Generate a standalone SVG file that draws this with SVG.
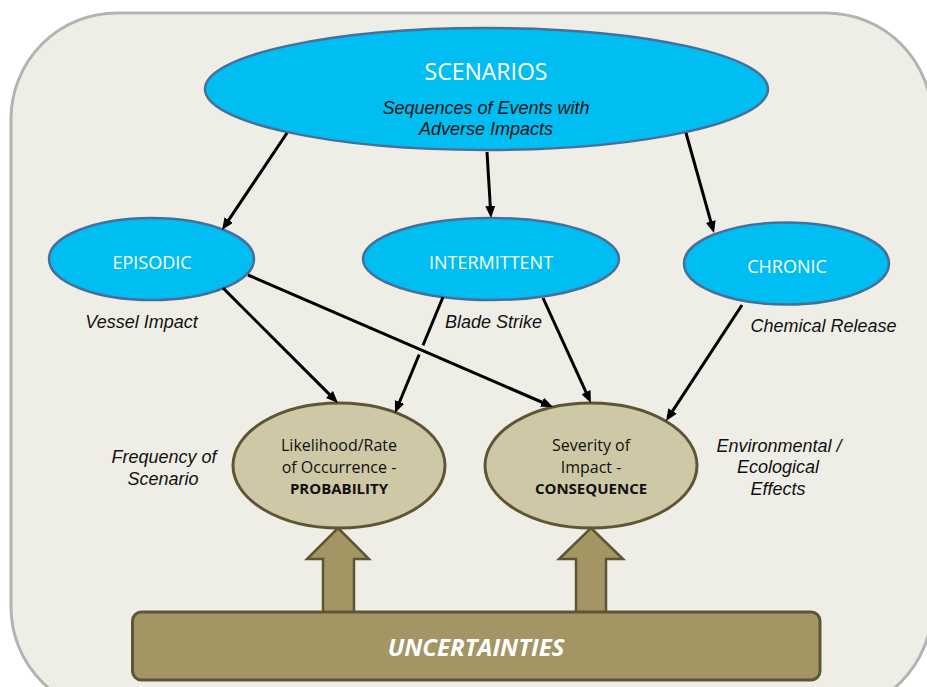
<svg xmlns="http://www.w3.org/2000/svg" width="927" height="687" viewBox="0 0 927 687">
<defs>
<marker id="ah" viewBox="0 0 12 10" refX="2" refY="5" markerWidth="12" markerHeight="10" markerUnits="userSpaceOnUse" orient="auto">
<path d="M0,0 L12,5 L0,10 z" fill="#000"/>
</marker>
<style>
.blue{fill:#00BEF2;stroke:#45709C;stroke-width:2.5}
.tan{fill:#CEC8A6;stroke:#5E5536;stroke-width:3}
.blk{fill:#A39664;stroke:#5E5536;stroke-width:2.5}
.wt{font-family:"Open Sans","Noto Sans",sans-serif;fill:#fff;text-anchor:middle;font-size:18px}
.tt{font-family:"Open Sans","Noto Sans",sans-serif;fill:#111;text-anchor:middle;font-size:16px}
.tb{font-weight:bold;font-size:15px}
.it{font-family:"Liberation Sans",Arial,sans-serif;font-style:italic;fill:#111;text-anchor:middle;font-size:18px}
.con line{stroke:#000;stroke-width:3;marker-end:url(#ah)}
</style>
</defs>
<rect x="11" y="13" width="921" height="700" rx="106" ry="106" fill="#EFEEE6" stroke="#B3B3B3" stroke-width="3"/>

<g id="scenarios">
<ellipse class="blue" cx="486.5" cy="89" rx="281.5" ry="61"/>
<text class="wt" x="486" y="80" style="font-size:23px">SCENARIOS</text>
<text class="it" x="486" y="114">Sequences of Events with</text>
<text class="it" x="486" y="135">Adverse Impacts</text>
</g>
<g id="episodic">
<ellipse class="blue" cx="151.5" cy="259" rx="102.5" ry="41"/>
<text class="wt" x="152" y="269">EPISODIC</text>
</g>
<g id="intermittent">
<ellipse class="blue" cx="491" cy="259" rx="128" ry="41"/>
<text class="wt" x="491" y="269">INTERMITTENT</text>
</g>
<g id="chronic">
<ellipse class="blue" cx="786.5" cy="263.5" rx="102.5" ry="41"/>
<text class="wt" x="787" y="273">CHRONIC</text>
</g>
<g id="probability">
<ellipse class="tan" cx="339" cy="465.5" rx="106" ry="62.5"/>
<text class="tt" x="339" y="451">Likelihood/Rate</text>
<text class="tt" x="339" y="473">of Occurrence -</text>
<text class="tt tb" x="339" y="494">PROBABILITY</text>
</g>
<g id="consequence">
<ellipse class="tan" cx="591" cy="465.5" rx="106" ry="62.5"/>
<text class="tt" x="591" y="451">Severity of</text>
<text class="tt" x="591" y="473">Impact -</text>
<text class="tt tb" x="591" y="494">CONSEQUENCE</text>
</g>
<g id="labels">
<text class="it" x="141.5" y="328">Vessel Impact</text>
<text class="it" x="493.5" y="328">Blade Strike</text>
<text class="it" x="823.5" y="332">Chemical Release</text>
<text class="it" x="164" y="463">Frequency of</text>
<text class="it" x="163" y="485">Scenario</text>
<text class="it" x="779" y="452">Environmental /</text>
<text class="it" x="778" y="473">Ecological</text>
<text class="it" x="778" y="495">Effects</text>
</g>
<g id="connectors" class="con">
<line x1="287" y1="133" x2="227.6" y2="221.7"/>
<line x1="487" y1="152" x2="490.4" y2="208"/>
<line x1="686" y1="133" x2="711.3" y2="223.4"/>
<line x1="223" y1="288" x2="330.9" y2="395.9"/>
<line x1="443" y1="297" x2="398.8" y2="403.8"/>
<path d="M411,345.5 L431.2,354.3" stroke="#EFEEE6" stroke-width="10" fill="none"/>
<line x1="248" y1="275" x2="543.8" y2="403"/>
<line x1="543" y1="298" x2="586.8" y2="393.9"/>
<line x1="742" y1="305" x2="671.5" y2="412.6"/>
</g>
<g id="uncertainties">
<path class="blk" d="M338,528 L369,559 L354,559 L354,614 L323,614 L323,559 L307,559 Z"/>
<path class="blk" d="M591,528 L623,559 L606,559 L606,614 L576,614 L576,559 L559,559 Z"/>
<rect class="blk" x="132.5" y="612" width="687.5" height="68" rx="9" ry="9" style="stroke-width:3"/>
<text class="wt" x="476" y="656" style="font-size:24px;font-weight:bold;font-style:italic">UNCERTAINTIES</text>
</g>
</svg>
